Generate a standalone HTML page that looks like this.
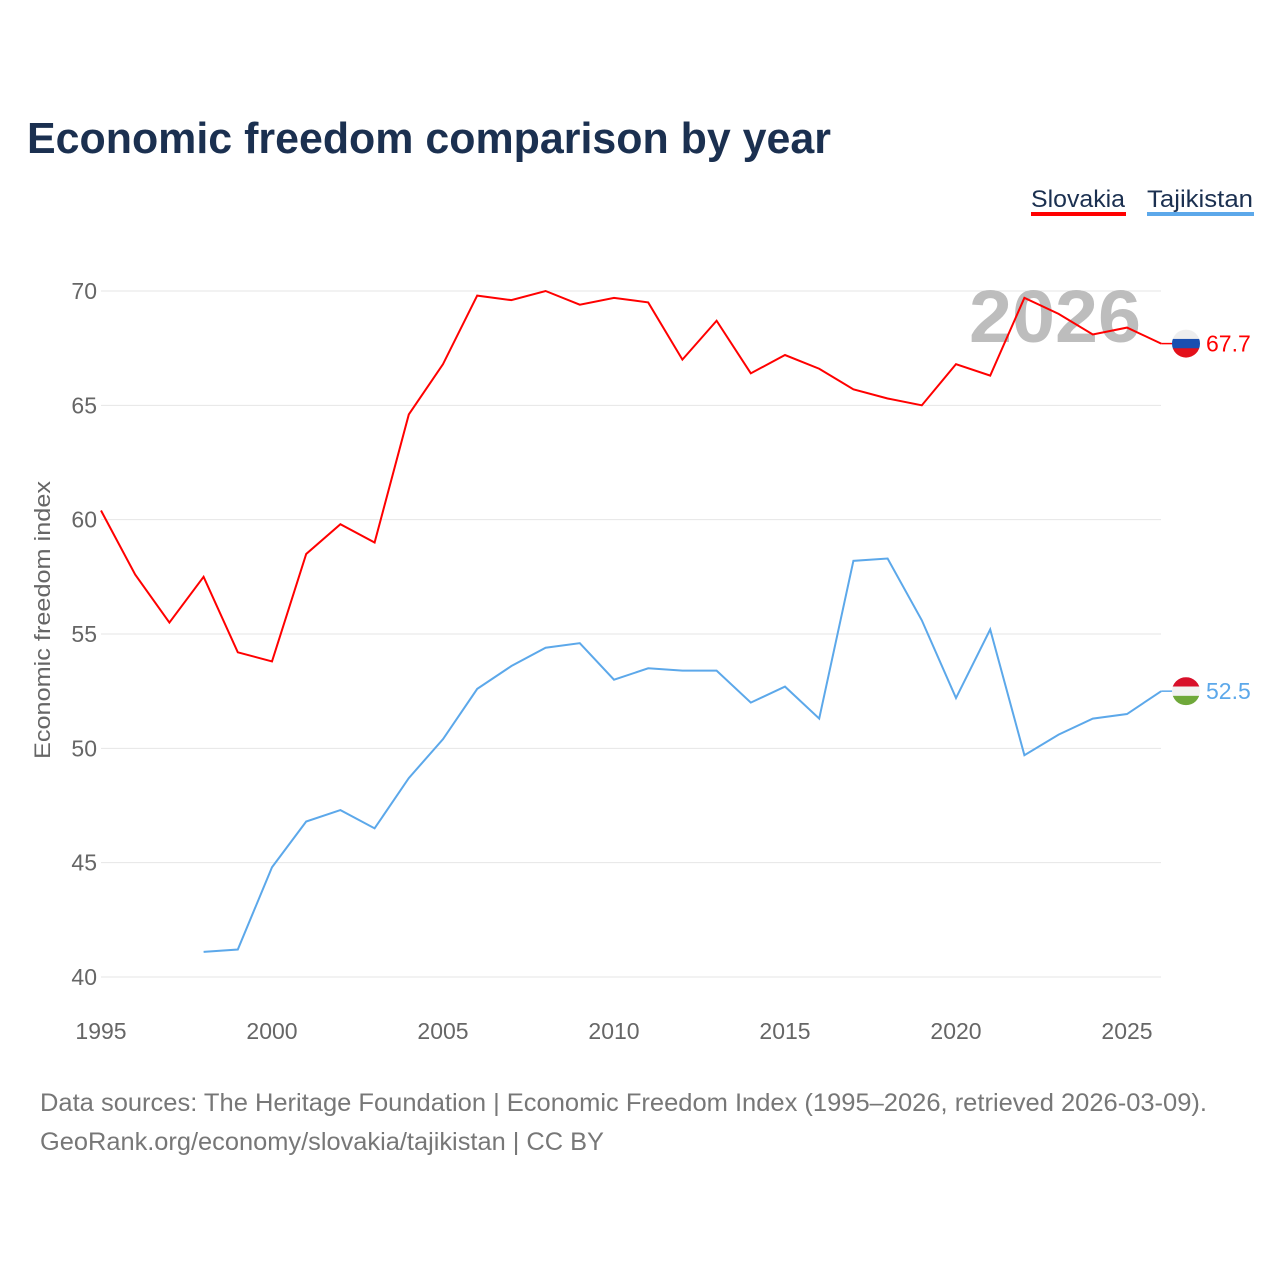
<!DOCTYPE html>
<html><head><meta charset="utf-8">
<style>
body{margin:0;background:#fff;font-family:"Liberation Sans",sans-serif;}
#wrap{position:relative;width:1280px;height:1280px;overflow:hidden;}
</style></head>
<body>
<div id="wrap">
<svg id="chart" width="1280" height="1280">
<defs>
<clipPath id="c1"><circle cx="1186" cy="0" r="14"/></clipPath>
</defs>
<text x="27" y="153" font-size="44" font-weight="bold" fill="#1b3050" textLength="804" lengthAdjust="spacingAndGlyphs">Economic freedom comparison by year</text>
<g>
<text x="1031" y="207" font-size="24" fill="#1b3050" textLength="94" lengthAdjust="spacingAndGlyphs">Slovakia</text>
<rect x="1031" y="212" width="95" height="4" fill="#ff0000"/>
</g>
<g>
<text x="1147" y="207" font-size="24" fill="#1b3050" textLength="106" lengthAdjust="spacingAndGlyphs">Tajikistan</text>
<rect x="1147" y="212" width="107" height="4" fill="#5ca8ea"/>
</g>
<g id="grid"></g>
<text x="1055" y="342" font-size="74" font-weight="bold" fill="#bdbdbd" text-anchor="middle" textLength="172" lengthAdjust="spacingAndGlyphs">2026</text>
<g id="series"></g>
<text transform="translate(50,620) rotate(-90)" font-size="22" fill="#666" text-anchor="middle" textLength="278" lengthAdjust="spacingAndGlyphs">Economic freedom index</text>
<text x="40" y="1111" font-size="25" fill="#777" textLength="1167" lengthAdjust="spacingAndGlyphs">Data sources: The Heritage Foundation | Economic Freedom Index (1995–2026, retrieved 2026-03-09).</text>
<text x="40" y="1150" font-size="25" fill="#777" textLength="564" lengthAdjust="spacingAndGlyphs">GeoRank.org/economy/slovakia/tajikistan | CC BY</text>
</svg>
</div>
<script>
const yearsSK=[1995,1996,1997,1998,1999,2000,2001,2002,2003,2004,2005,2006,2007,2008,2009,2010,2011,2012,2013,2014,2015,2016,2017,2018,2019,2020,2021,2022,2023,2024,2025,2026];
const valuesSK=[60.4,57.6,55.5,57.5,54.2,53.8,58.5,59.8,59.0,64.6,66.8,69.8,69.6,70.0,69.4,69.7,69.5,67.0,68.7,66.4,67.2,66.6,65.7,65.3,65.0,66.8,66.3,69.7,69.0,68.1,68.4,67.7];
const yearsTJ=[1998,1999,2000,2001,2002,2003,2004,2005,2006,2007,2008,2009,2010,2011,2012,2013,2014,2015,2016,2017,2018,2019,2020,2021,2022,2023,2024,2025,2026];
const valuesTJ=[41.1,41.2,44.8,46.8,47.3,46.5,48.7,50.4,52.6,53.6,54.4,54.6,53.0,53.5,53.4,53.4,52.0,52.7,51.3,58.2,58.3,55.6,52.2,55.2,49.7,50.6,51.3,51.5,52.5];
const yTicks=[40,45,50,55,60,65,70];
const xTicks=[1995,2000,2005,2010,2015,2020,2025];
const NS="http://www.w3.org/2000/svg";
const x=v=>101+(v-1995)*(1127-101)/30;
const y=v=>977-(v-40)*(977-291)/30;
function mk(tag,attrs,parent){const e=document.createElementNS(NS,tag);for(const k in attrs)e.setAttribute(k,attrs[k]);parent.appendChild(e);return e;}
const grid=document.getElementById('grid');
yTicks.forEach(t=>{
  const l=mk('line',{x1:101,x2:1161,y1:y(t),y2:y(t),stroke:'#e6e6e6','stroke-width':1},grid);
  
  
  const tx=mk('text',{x:97,y:y(t)+8,'font-size':23,fill:'#666','text-anchor':'end'},grid);
  tx.textContent=t;
  
  
});
xTicks.forEach(t=>{
  const tx=mk('text',{x:x(t),y:1039,'font-size':23,fill:'#666','text-anchor':'middle'},grid);
  tx.textContent=t;
  
  
});
const ser=document.getElementById('series');
function line(ys,vs,color,name,stripes){
  const p=mk('polyline',{points:ys.map((yr,i)=>x(yr)+','+y(vs[i])).join(' '),fill:'none',stroke:color,'stroke-width':2},ser);
  
  
  const lx=x(ys[ys.length-1]), lv=vs[vs.length-1], ly=y(lv);
  mk('line',{x1:lx,x2:lx+12,y1:ly,y2:ly,stroke:color,'stroke-width':1.5},ser);
  const g=mk('g',{transform:`translate(0,${ly})`,'clip-path':'url(#c1)'},ser);
  
  
  stripes.forEach((c,i)=>mk('rect',{x:1172,y:-14+i*28/3,width:28,height:28/3+0.5,fill:c},g));
  const t=mk('text',{x:1206,y:ly+8,'font-size':23,fill:color},ser);
  t.textContent=lv.toFixed(1);
  
  
}
line(yearsSK,valuesSK,'#ff0000','slovakia',['#eeeeee','#1a4fb0','#e3101a']);
line(yearsTJ,valuesTJ,'#5ca8ea','tajikistan',['#d8102a','#f2f2f2','#6fa83a']);
</script>
</body></html>
